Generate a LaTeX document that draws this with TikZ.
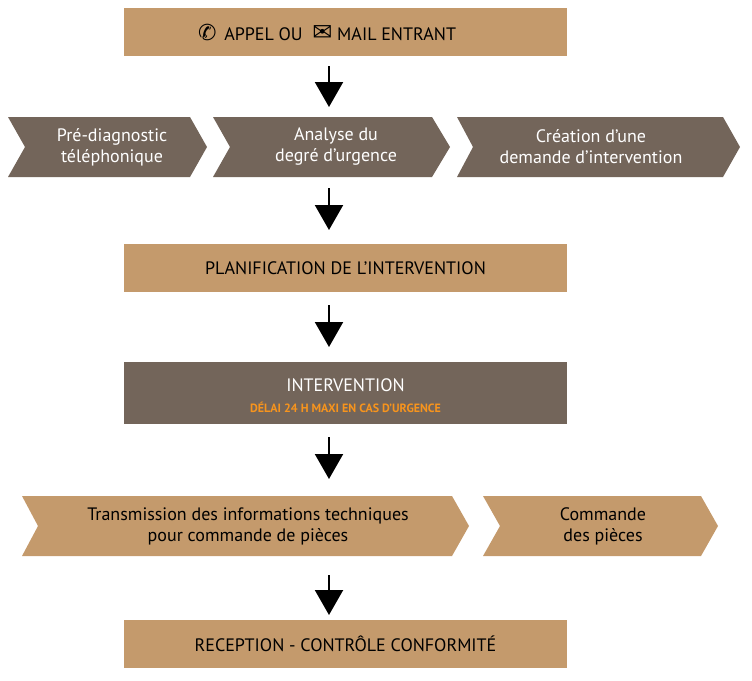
\documentclass[tikz,border=0pt]{standalone}
\usepackage{fontspec}
\usetikzlibrary{arrows.meta}
\setmainfont{PT Sans}
\newfontfamily\symf{DejaVu Sans}
\definecolor{tan}{HTML}{C49A6C}
\definecolor{brn}{HTML}{73655A}
\definecolor{org}{HTML}{F7941D}
\begin{document}
\begin{tikzpicture}[x=1pt,y=-1pt,
  tanbox/.style={fill=tan},
  brnbox/.style={fill=brn},
  lbl/.style={font=\fontsize{18}{21}\selectfont,align=center,inner sep=0},
  arr/.style={line width=2.2pt,-{Triangle[width=28pt,length=25pt]}}]
\useasboundingbox (0,0) rectangle (752,680);
% boxes
\fill[tanbox] (124,8) rectangle (567,56);
\node[lbl,text=black] (top) at (327,32) {{\symf\fontsize{22}{22}\selectfont ✆}\, APPEL OU\ \ {\symf\fontsize{24}{22}\selectfont ✉} MAIL ENTRANT};
% chevrons row 1
\fill[brnbox] (8,117) -- (190,117) -- (207,147) -- (190,177) -- (8,177) -- (25,147) -- cycle;
\fill[brnbox] (213,117) -- (432,117) -- (450,147) -- (432,177) -- (213,177) -- (230,147) -- cycle;
\fill[brnbox] (457,117) -- (723,117) -- (740,147) -- (723,177) -- (457,177) -- (473,147) -- cycle;
\node[lbl,text=white] (c1) at (112,147) {Pré-diagnostic\\téléphonique};
\node[lbl,text=white] (c2) at (336,147) {Analyse du\\degré d'urgence};
\node[lbl,text=white] (c3) at (591,147) {Création d'une\\demande d'intervention};
\fill[tanbox] (124,244) rectangle (567,292);
\node[lbl] (plan) at (345.5,268) {PLANIFICATION DE L'INTERVENTION};
\fill[brnbox] (124,362) rectangle (567,424);
\node[lbl,text=white] (int) at (345.5,385) {INTERVENTION};
\node[inner sep=0,text=org,font=\bfseries\fontsize{12}{14}\selectfont] (del) at (345.5,407) {DÉLAI 24 H MAXI EN CAS D'URGENCE};
% chevrons row 2
\fill[tanbox] (22,496) -- (452,496) -- (469,526) -- (452,556) -- (22,556) -- (38,526) -- cycle;
\fill[tanbox] (483,496) -- (701,496) -- (718,526) -- (701,556) -- (483,556) -- (500,526) -- cycle;
\node[lbl] (t1) at (248,526) {Transmission des informations techniques\\pour commande de pièces};
\node[lbl] (t2) at (603,526) {Commande\\des pièces};
\fill[tanbox] (124,620) rectangle (567,668);
\node[lbl] (rec) at (345.5,644) {RECEPTION - CONTRÔLE CONFORMITÉ};
% arrows
\coordinate (a1s) at (329,66); \coordinate (a1e) at (329,107);
\coordinate (a2s) at (329,188); \coordinate (a2e) at (329,230);
\coordinate (a3s) at (329,305); \coordinate (a3e) at (329,347);
\coordinate (a4s) at (329,437); \coordinate (a4e) at (329,479);
\coordinate (a5s) at (329,575); \coordinate (a5e) at (329,615);
\foreach \s/\e in {a1s/a1e,a2s/a2e,a3s/a3e,a4s/a4e,a5s/a5e}
  \draw[arr] (\s) -- (\e);
\end{tikzpicture}
\end{document}
